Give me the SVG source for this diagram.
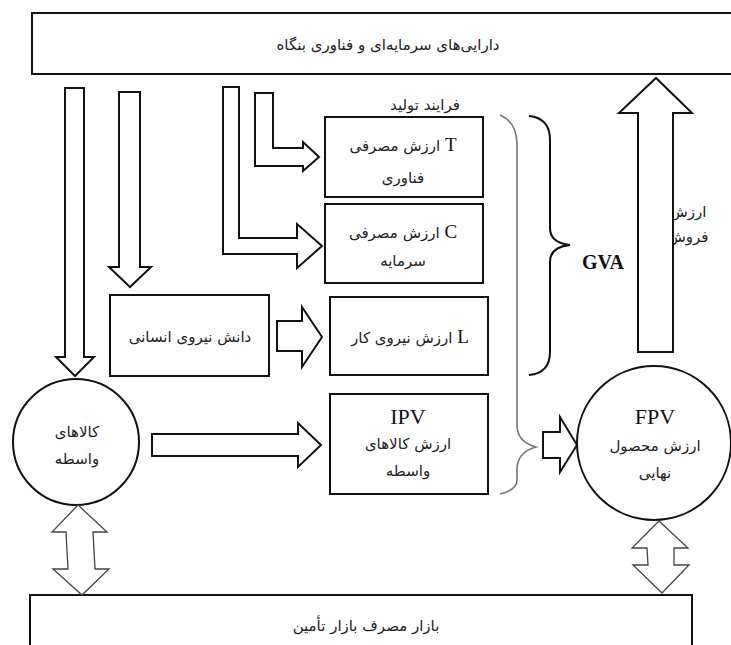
<svg xmlns="http://www.w3.org/2000/svg" width="731" height="645" viewBox="0 0 731 645">
<style>
.box{fill:#fff;stroke:#111;stroke-width:2}
.arr{fill:#fff;stroke:#111;stroke-width:2;stroke-linejoin:miter}
.darr{fill:#fff;stroke:#444;stroke-width:1.3}
.fa{font-family:"DejaVu Sans","Noto Sans",sans-serif;font-size:15px;fill:#222;text-anchor:middle}
.lat{font-family:"Liberation Serif",serif;font-size:19px;fill:#111}
.big{font-family:"Liberation Serif",serif;font-size:22px;fill:#111;text-anchor:middle}
.gva{font-family:"Liberation Serif",serif;font-size:20px;font-weight:bold;fill:#111;text-anchor:middle}
</style>
<rect width="731" height="645" fill="#fff"/>
<g id="assets">
<rect class="box" x="32" y="13" width="720" height="61"/>
<text class="fa" x="388" y="50">دارایی‌های سرمایه‌ای و فناوری بنگاه</text>
</g>
<g id="market">
<rect class="box" x="30" y="595" width="662" height="70"/>
<text class="fa" x="366" y="631">بازار مصرف بازار تأمین</text>
</g>
<g id="label-process"><text class="fa" x="425" y="110">فرایند تولید</text></g>
<g id="node-T">
<rect class="box" x="325" y="117" width="158" height="80"/>
<text class="fa" x="403" y="151" direction="rtl"><tspan class="lat">T</tspan> ارزش مصرفی</text>
<text class="fa" x="403" y="183">فناوری</text>
</g>
<g id="node-C">
<rect class="box" x="325" y="204" width="158" height="79"/>
<text class="fa" x="403" y="238" direction="rtl"><tspan class="lat">C</tspan> ارزش مصرفی</text>
<text class="fa" x="403" y="266">سرمایه</text>
</g>
<g id="node-knowledge">
<rect class="box" x="110" y="295" width="159" height="81"/>
<text class="fa" x="190" y="342">دانش نیروی انسانی</text>
</g>
<g id="node-L">
<rect class="box" x="330" y="297" width="158" height="78"/>
<text class="fa" x="410" y="343" direction="rtl"><tspan class="lat">L</tspan> ارزش نیروی کار</text>
</g>
<g id="node-IPV">
<rect class="box" x="330" y="394" width="158" height="100"/>
<text class="big" x="408" y="424">IPV</text>
<text class="fa" x="408" y="449">ارزش کالاهای</text>
<text class="fa" x="408" y="476">واسطه</text>
</g>
<g id="node-goods">
<circle class="box" cx="76" cy="442" r="63"/>
<text class="fa" x="77" y="437">کالاهای</text>
<text class="fa" x="77" y="464">واسطه</text>
</g>
<g id="node-FPV">
<circle class="box" cx="654" cy="443" r="77"/>
<text class="big" x="655" y="424">FPV</text>
<text class="fa" x="655" y="451">ارزش محصول</text>
<text class="fa" x="655" y="478">نهایی</text>
</g>
<g id="label-sales">
<text class="fa" x="688" y="217">ارزش</text>
<text class="fa" x="688" y="242">فروش</text>
</g>
<g id="label-GVA"><text class="gva" x="603" y="269">GVA</text></g>
<g id="connectors">
<polygon class="arr" points="65,88 84,88 84,357 94,357 75,376 56,357 65,357"/>
<polygon class="arr" points="119,92 140,92 140,267 151,267 130,287 109,267 119,267"/>
<polygon class="arr" points="223,87 239,87 239,238 297,238 297,224 322,246 297,268 297,254 223,254"/>
<polygon class="arr" points="255,93 273,93 273,148 303,148 303,142 319,157 303,171 303,166 255,166"/>
<polygon class="arr" points="277,321 302,321 302,307 322,337 302,367 302,351 277,351"/>
<polygon class="arr" points="152,434 298,434 298,423 321,445 298,467 298,456 152,456"/>
<polygon class="arr" points="543,432 560,432 560,417 577,445 560,472 560,458 543,458"/>
<polygon class="arr" points="638,352 638,113 619,113 656,78 692,113 673,113 673,352"/>
<polygon class="darr" points="78,505 107,532 93,532 95,569 109,569 82,595 53,569 68,569 66,532 52,532"/>
<polygon class="darr" points="659,521 688,548 674,548 674,565 689,565 662,593 633,565 648,565 647,548 632,548"/>
<path d="M500,115 Q517,122 517,145 L517,425 Q517,442 536,447 Q517,452 517,470 L517,480 Q517,490 500,494" fill="none" stroke="#777" stroke-width="1.6"/>
<path d="M529,116 Q550,118 550,140 L550,228 Q550,243 570,245 Q550,247 550,262 L550,352 Q550,373 529,375" fill="none" stroke="#111" stroke-width="2"/>
</g>
</svg>
